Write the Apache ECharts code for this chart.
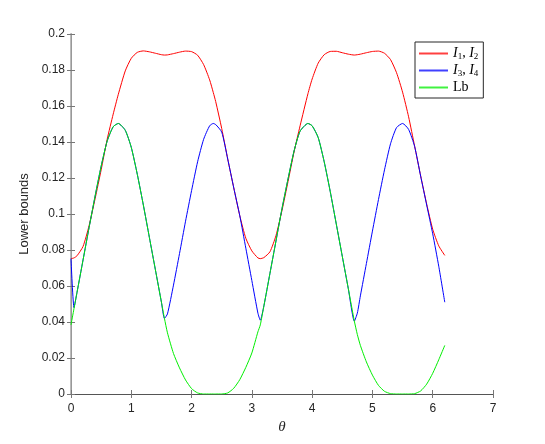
<!DOCTYPE html>
<html>
<head>
<meta charset="utf-8">
<script src="https://cdn.jsdelivr.net/npm/echarts@6/dist/echarts.min.js"></script>
<style>
  html, body { margin: 0; padding: 0; background: #fff; }
  #chart { width: 545px; height: 444px; }
</style>
</head>
<body>
<div id="chart"></div>
<script>
// theta samples (rad) shared by the three curves
const theta = [
  0, 0.05, 0.1, 0.2, 0.3, 0.4, 0.5, 0.6, 0.7, 0.785, 0.9, 1.0, 1.1, 1.2, 1.3, 1.4, 1.5, 1.55,
  1.6, 1.7, 1.8, 1.9, 2.0, 2.1, 2.2, 2.3, 2.36, 2.4, 2.5, 2.6, 2.7, 2.8, 2.9, 3.0, 3.1, 3.14,
  3.2, 3.3, 3.4, 3.5, 3.6, 3.7, 3.8, 3.93, 4.0, 4.1, 4.2, 4.3, 4.4, 4.5, 4.6, 4.7, 4.75,
  4.8, 4.9, 5.0, 5.1, 5.2, 5.3, 5.4, 5.5, 5.6, 5.7, 5.8, 5.9, 6.0, 6.1, 6.2
];

const i12 = [
  0.0752, 0.0756, 0.0768, 0.082, 0.0935, 0.1085, 0.1245, 0.1415, 0.1555, 0.1665, 0.1795, 0.1865, 0.1898, 0.1906, 0.1901, 0.1893, 0.1885, 0.1883,
  0.1884, 0.1891, 0.1899, 0.1905, 0.1902, 0.1882, 0.183, 0.1745, 0.1675, 0.1625, 0.1475, 0.1305, 0.1145, 0.099, 0.0865, 0.0795, 0.0756, 0.0752,
  0.0758, 0.079, 0.088, 0.102, 0.118, 0.1345, 0.149, 0.1668, 0.175, 0.1838, 0.1885, 0.1903, 0.1904, 0.1896, 0.1888, 0.1883, 0.1885,
  0.1888, 0.1896, 0.1903, 0.1905, 0.1893, 0.1858, 0.1785, 0.1677, 0.154, 0.1377, 0.1212, 0.1055, 0.0915, 0.0823, 0.0770
];

const i34 = [
  0.0752, 0.048, 0.0565, 0.0745, 0.0925, 0.110, 0.1265, 0.1405, 0.1485, 0.1503, 0.1465, 0.137, 0.122, 0.105, 0.087, 0.069, 0.051, 0.042,
  0.0445, 0.0605, 0.078, 0.096, 0.113, 0.129, 0.1415, 0.149, 0.1503, 0.1497, 0.1455, 0.1305, 0.1145, 0.099, 0.081, 0.063, 0.045, 0.041,
  0.049, 0.067, 0.085, 0.103, 0.1195, 0.135, 0.146, 0.1503, 0.149, 0.1425, 0.129, 0.1125, 0.0945, 0.0765, 0.0585, 0.0405, 0.045,
  0.0545, 0.0725, 0.0905, 0.108, 0.1245, 0.139, 0.148, 0.1503, 0.147, 0.1375, 0.121, 0.105, 0.089, 0.071, 0.051
];

const lb = [
  0.0384, 0.0475, 0.0565, 0.0745, 0.0925, 0.110, 0.1265, 0.1405, 0.1485, 0.1503, 0.1465, 0.137, 0.122, 0.105, 0.087, 0.069, 0.051, 0.042,
  0.034, 0.0225, 0.0145, 0.0078, 0.003, 0.0006, 0, 0, 0, 0, 0, 0.0006, 0.0032, 0.008, 0.0148, 0.0228, 0.0345, 0.0384,
  0.049, 0.067, 0.085, 0.103, 0.1195, 0.135, 0.146, 0.1503, 0.149, 0.1425, 0.129, 0.1125, 0.0945, 0.0765, 0.0585, 0.0405, 0.033,
  0.027, 0.0178, 0.0105, 0.0048, 0.0015, 0.0002, 0, 0, 0, 0.0002, 0.0017, 0.0055, 0.0115, 0.019, 0.027
];

const xTicks = [0, 1, 2, 3, 4, 5, 6, 7];
const yTicks = [0, 0.02, 0.04, 0.06, 0.08, 0.1, 0.12, 0.14, 0.16, 0.18, 0.2];

const seriesNames = ['I1,I2', 'I3,I4', 'Lb'];
const seriesColors = ['#ff0000', '#0000ff', '#00ee00'];
const seriesValues = [i12, i34, lb];

const legendText = {
  'I1,I2': '{it|I}{sub|1}{rm|, }{it|I}{sub|2}',
  'I3,I4': '{it|I}{sub|3}{rm|, }{it|I}{sub|4}',
  'Lb': '{rm|Lb}'
};

const chart = echarts.init(document.getElementById('chart'));

const sansFont = '"Liberation Sans", Arial, sans-serif';
const serifFont = '"Liberation Serif", "DejaVu Serif", serif';

function axisBase(extra) {
  return Object.assign({
    type: 'value',
    axisTick: { show: true, inside: true, length: 4, lineStyle: { color: '#777', width: 1 } },
    splitLine: { show: false },
    axisLabel: { color: '#262626', fontFamily: sansFont, fontSize: 12 }
  }, extra);
}

const xOpts = { min: xTicks[0], max: xTicks[xTicks.length - 1], interval: xTicks[1] - xTicks[0] };
const yOpts = { min: yTicks[0], max: yTicks[yTicks.length - 1], interval: 0.02 };

chart.setOption({
  animation: false,
  backgroundColor: '#fff',
  grid: { left: 71, right: 52, top: 34, bottom: 50 },
  legend: {
    orient: 'vertical',
    left: 415,
    top: 42,
    padding: [4, 5, 3, 4],
    icon: 'rect',
    itemWidth: 29,
    itemHeight: 2,
    itemGap: 2,
    itemStyle: { borderWidth: 0, opacity: 0.75 },
    borderColor: '#262626',
    borderWidth: 1,
    borderRadius: 0,
    backgroundColor: '#fff',
    data: seriesNames,
    formatter: name => legendText[name],
    textStyle: {
      color: '#000',
      lineHeight: 15,
      rich: {
        it: { fontFamily: serifFont, fontStyle: 'italic', fontSize: 14, lineHeight: 15, color: '#000' },
        sub: { fontFamily: serifFont, fontSize: 9, lineHeight: 9, color: '#000', verticalAlign: 'bottom' },
        rm: { fontFamily: serifFont, fontSize: 14, lineHeight: 15, color: '#000' }
      }
    }
  },
  xAxis: [
    axisBase(Object.assign({
      position: 'bottom',
      name: 'θ',
      nameLocation: 'middle',
      nameGap: 22,
      nameTextStyle: { fontFamily: serifFont, fontStyle: 'italic', fontSize: 15, color: '#262626' },
      axisLine: { lineStyle: { color: '#9a9a9a', width: 1 } },
      axisLabel: { color: '#262626', fontFamily: sansFont, fontSize: 12, margin: 9 }
    }, xOpts)),
    axisBase(Object.assign({
      position: 'top',
      axisLine: { lineStyle: { color: '#555', width: 1 } },
      axisLabel: { show: false }
    }, xOpts))
  ],
  yAxis: [
    axisBase(Object.assign({
      position: 'left',
      name: 'Lower bounds',
      nameLocation: 'middle',
      nameGap: 30,
      nameTextStyle: { fontFamily: sansFont, fontSize: 13, color: '#262626' },
      axisLine: { lineStyle: { color: '#bbbbbb', width: 2 } },
      axisLabel: { color: '#262626', fontFamily: sansFont, fontSize: 12, margin: 6 }
    }, yOpts)),
    axisBase(Object.assign({
      position: 'right',
      axisLine: { lineStyle: { color: '#999', width: 1 } },
      axisLabel: { show: false }
    }, yOpts))
  ],
  series: seriesNames.map((name, k) => ({
    name: name,
    type: 'line',
    xAxisIndex: 0,
    yAxisIndex: 0,
    symbol: 'none',
    smooth: 0.2,
    color: seriesColors[k],
    lineStyle: { color: seriesColors[k], width: 1 },
    data: theta.map((t, i) => [t, seriesValues[k][i]])
  }))
});
</script>
</body>
</html>
